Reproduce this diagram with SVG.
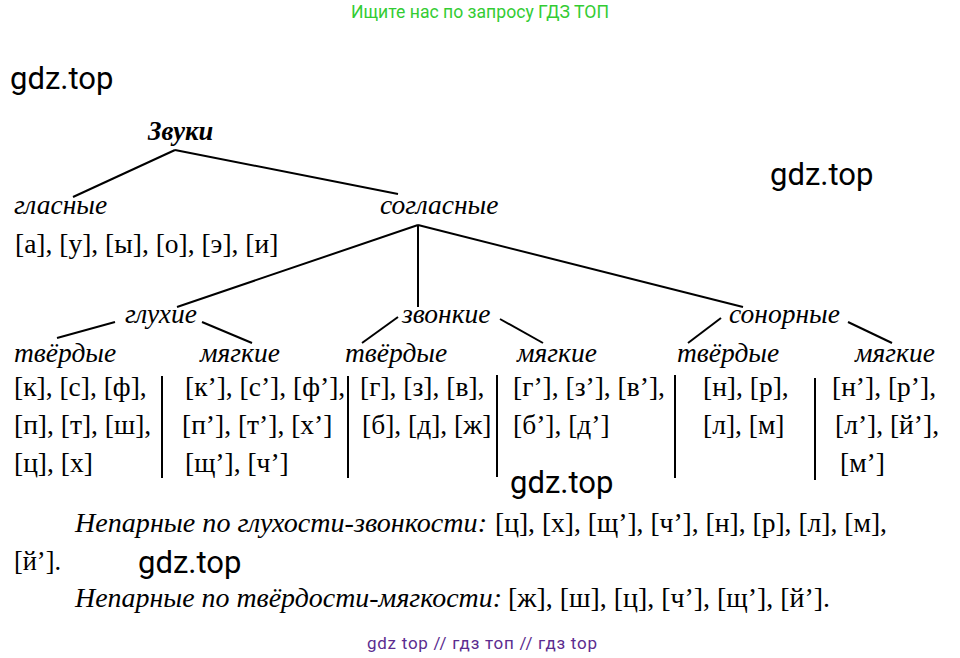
<svg xmlns="http://www.w3.org/2000/svg" width="960" height="658" viewBox="0 0 960 658">
<style>
.t{font-family:"Liberation Serif","Times New Roman",serif;font-size:27.5px;fill:#000}
.i{font-family:"Liberation Serif","Times New Roman",serif;font-style:italic;font-size:27.5px;fill:#000}
.b{font-family:"Liberation Serif","Times New Roman",serif;font-style:italic;font-weight:bold;font-size:26.5px;fill:#000}
.w{font-family:Roboto,"Liberation Sans",sans-serif;font-size:31px;fill:#000}
line{stroke:#000;stroke-width:2}
</style>
<rect width="960" height="658" fill="#fff"/>
<text x="480" y="18" text-anchor="middle" textLength="258" lengthAdjust="spacingAndGlyphs" style="font-family:Roboto,'Liberation Sans',sans-serif;font-size:17.5px;fill:#33cc33">Ищите нас по запросу ГДЗ ТОП</text>
<g id="connectors">
<line x1="175" y1="150" x2="73" y2="197"/>
<line x1="175" y1="150" x2="398" y2="194"/>
<line x1="418" y1="225" x2="177" y2="307"/>
<line x1="418" y1="225" x2="418" y2="307"/>
<line x1="418" y1="225" x2="743" y2="307"/>
<line x1="115" y1="322" x2="57" y2="338"/>
<line x1="202" y1="322" x2="252" y2="343"/>
<line x1="398" y1="317" x2="362" y2="343"/>
<line x1="500" y1="319" x2="543" y2="343"/>
<line x1="721" y1="318" x2="688" y2="343"/>
<line x1="848" y1="322" x2="892" y2="343"/>
<line x1="162" y1="376" x2="162" y2="478"/>
<line x1="348" y1="376" x2="348" y2="478"/>
<line x1="497" y1="375" x2="497" y2="477"/>
<line x1="675" y1="375" x2="675" y2="478"/>
<line x1="815" y1="378" x2="815" y2="480"/>
</g>
<g id="root"><text class="b" x="148" y="140">Звуки</text></g>
<g id="vowels"><text class="i" x="14" y="214">гласные</text><text class="t" x="15" y="253">[а], [у], [ы], [о], [э], [и]</text></g>
<g id="consonants"><text class="i" x="380" y="214">согласные</text></g>
<g id="voiceless"><text class="i" x="125" y="323">глухие</text></g>
<g id="voiced"><text class="i" x="402" y="323">звонкие</text></g>
<g id="sonorant"><text class="i" x="729" y="323">сонорные</text></g>
<g id="vl-hard"><text class="i" x="14" y="362">твёрдые</text>
<text class="t" x="14" y="396">[к], [с], [ф],</text><text class="t" x="14" y="434">[п], [т], [ш],</text><text class="t" x="14" y="472">[ц], [х]</text></g>
<g id="vl-soft"><text class="i" x="200" y="362">мягкие</text>
<text class="t" x="185" y="396">[к’], [с’], [ф’],</text><text class="t" x="182" y="434">[п’], [т’], [х’]</text><text class="t" x="185" y="472">[щ’], [ч’]</text></g>
<g id="vd-hard"><text class="i" x="345" y="362">твёрдые</text>
<text class="t" x="360" y="396">[г], [з], [в],</text><text class="t" x="362" y="434">[б], [д], [ж]</text></g>
<g id="vd-soft"><text class="i" x="517" y="362">мягкие</text>
<text class="t" x="513" y="396">[г’], [з’], [в’],</text><text class="t" x="513" y="434">[б’], [д’]</text></g>
<g id="so-hard"><text class="i" x="677" y="362">твёрдые</text>
<text class="t" x="703" y="396">[н], [р],</text><text class="t" x="703" y="434">[л], [м]</text></g>
<g id="so-soft"><text class="i" x="855" y="362">мягкие</text>
<text class="t" x="832" y="396">[н’], [р’],</text><text class="t" x="835" y="434">[л’], [й’],</text><text class="t" x="840" y="472">[м’]</text></g>
<g id="notes">
<text class="i" x="75" y="532" textLength="412" lengthAdjust="spacingAndGlyphs">Непарные по глухости-звонкости:</text>
<text class="t" x="495" y="532" textLength="392" lengthAdjust="spacingAndGlyphs">[ц], [х], [щ’], [ч’], [н], [р], [л], [м],</text>
<text class="t" x="14" y="570" textLength="47" lengthAdjust="spacingAndGlyphs">[й’].</text>
<text class="i" x="75" y="607" textLength="427" lengthAdjust="spacingAndGlyphs">Непарные по твёрдости-мягкости:</text>
<text class="t" x="508" y="607" textLength="322" lengthAdjust="spacingAndGlyphs">[ж], [ш], [ц], [ч’], [щ’], [й’].</text>
</g>
<text class="w" x="10" y="89">gdz.top</text>
<text class="w" x="770" y="185">gdz.top</text>
<text class="w" x="510" y="493">gdz.top</text>
<text class="w" x="138" y="573">gdz.top</text>
<text x="367" y="649" textLength="230" lengthAdjust="spacing" style="font-family:Roboto,'Liberation Sans',sans-serif;font-size:17px;fill:#5b2c8f">gdz top // гдз топ // гдз top</text>
</svg>
